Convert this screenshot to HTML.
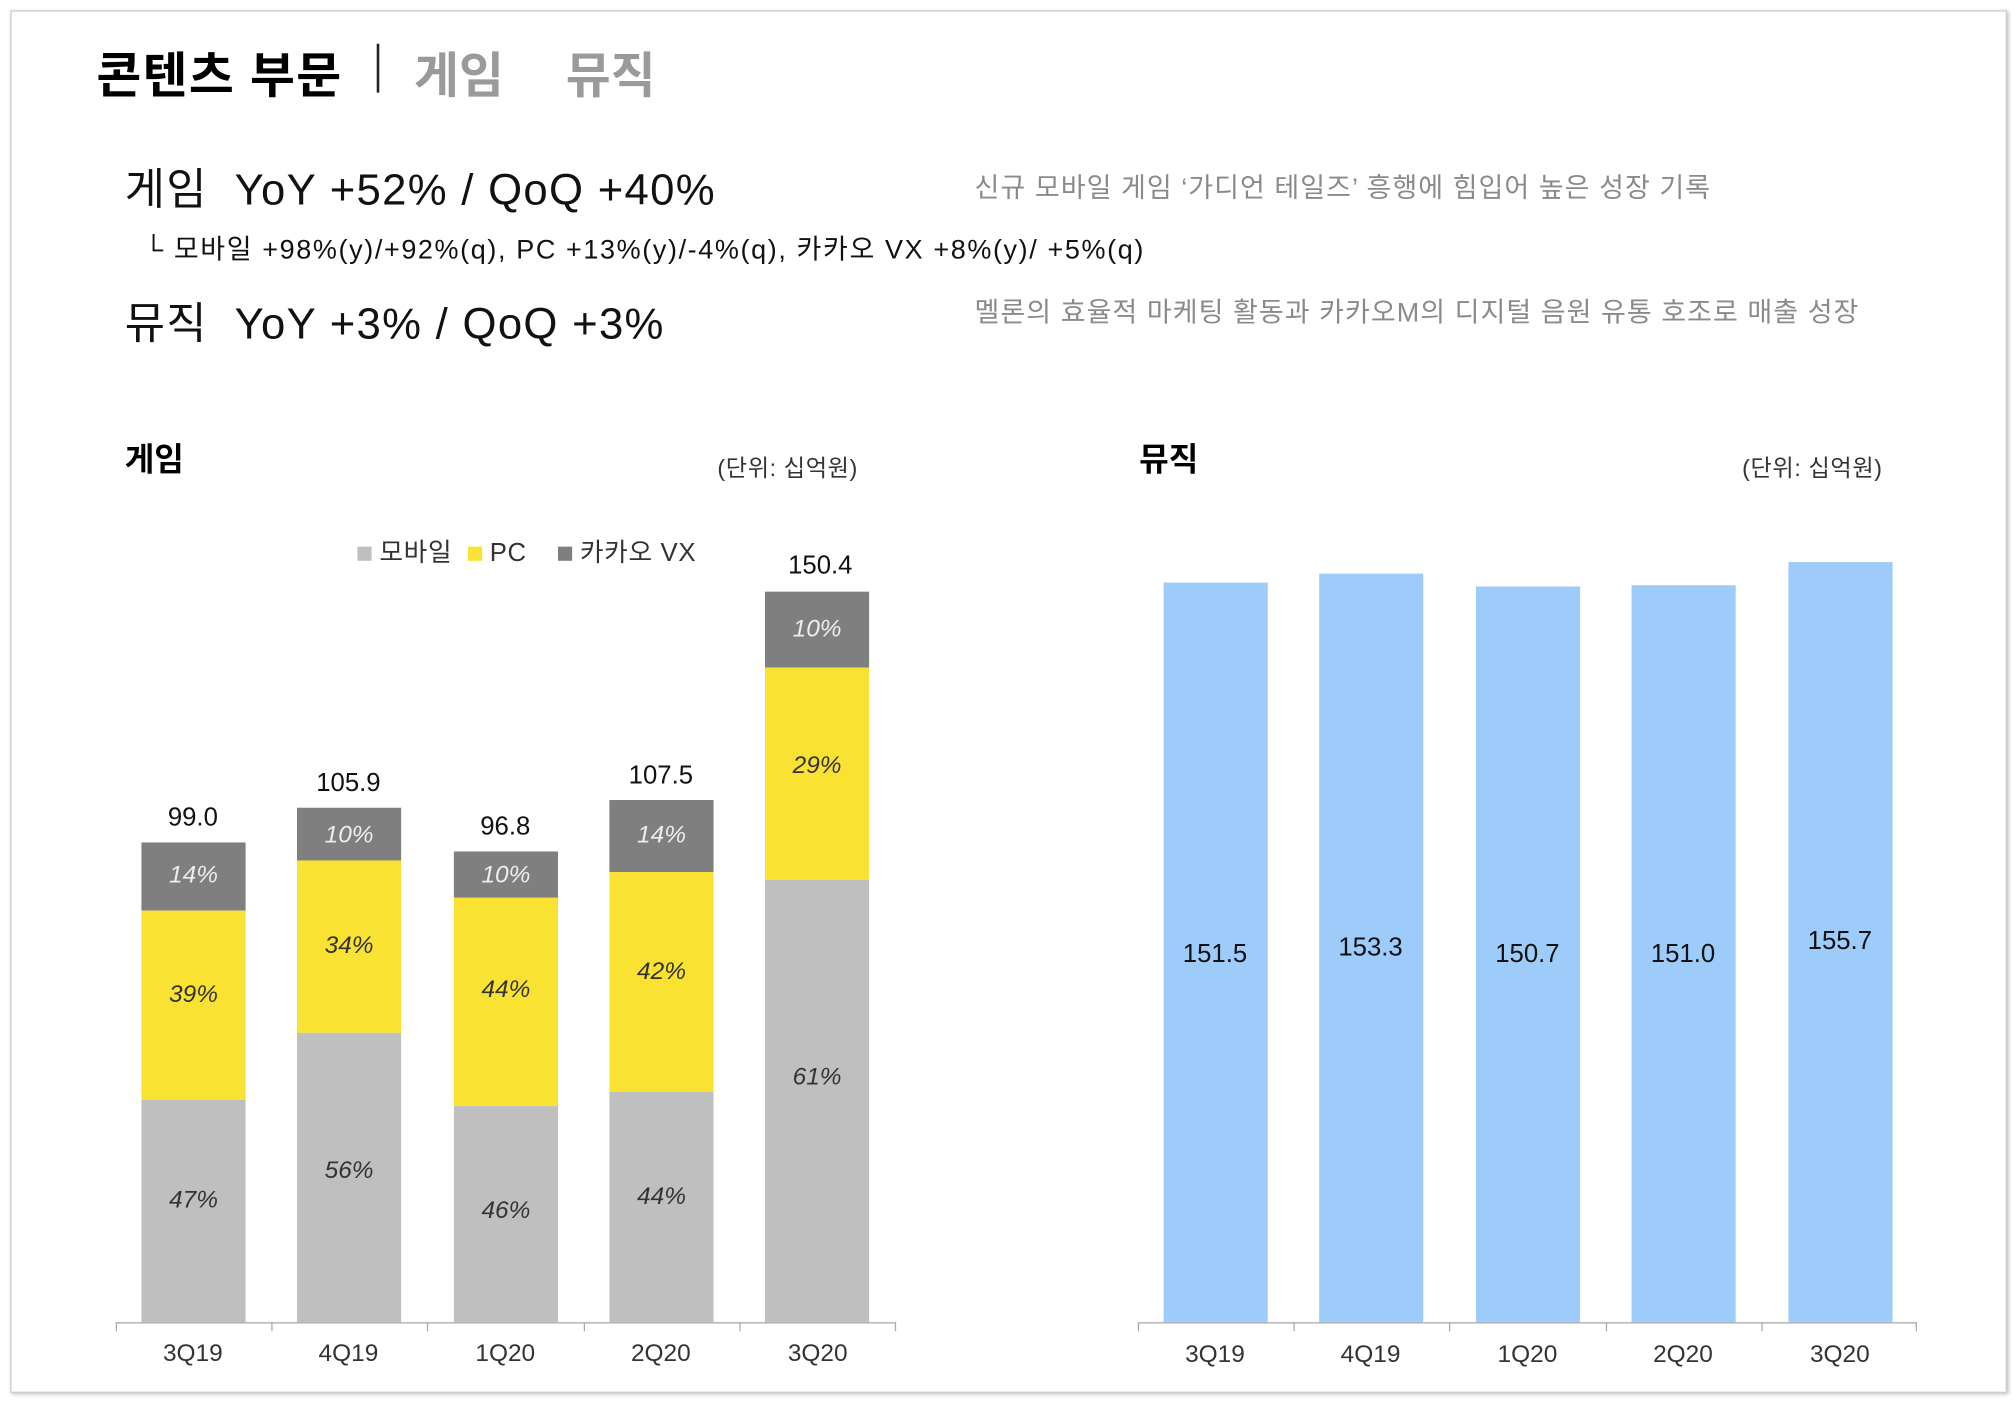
<!DOCTYPE html>
<html><head><meta charset="utf-8"><style>
html,body{margin:0;padding:0;background:#fff;}
body{width:2016px;height:1402px;overflow:hidden;}
#w{position:absolute;left:0;top:0;width:1568px;height:1090px;transform:scale(1.2857,1.2862);transform-origin:0 0;font-family:"Liberation Sans","Noto Sans CJK KR",sans-serif;}
.a{position:absolute;white-space:nowrap;}
.bar{position:absolute;width:81px;}
.p{position:absolute;width:81px;text-align:center;font-style:italic;font-size:19px;color:#333;}
.t{position:absolute;width:100px;text-align:center;font-size:20px;color:#111;}
.x{position:absolute;width:100px;text-align:center;font-size:19px;color:#333;}
</style></head><body><div id="w">
<div class="a" style="left:8px;top:8px;width:1551px;height:1073px;border:1px solid #ccc;box-shadow:1px 1px 3px #bbb;"></div>
<div class="a" style="left:75px;top:28px;font-size:38px;font-weight:bold;color:#000;letter-spacing:1px;">콘텐츠 부문</div>
<div class="a" style="left:293px;top:34px;width:2px;height:38px;background:#222;"></div>
<div class="a" style="left:322px;top:28px;font-size:38px;font-weight:bold;color:#9a9a9a;">게임</div>
<div class="a" style="left:440px;top:28px;font-size:38px;font-weight:bold;color:#9a9a9a;">뮤직</div>
<div class="a" style="left:97px;top:120px;font-size:34px;color:#111;letter-spacing:1px;">게임&nbsp; YoY +52% / QoQ +40%</div>
<div class="a" style="left:112px;top:178px;font-size:21px;color:#111;letter-spacing:1.25px;">└ 모바일 +98%(y)/+92%(q), PC +13%(y)/-4%(q), 카카오 VX +8%(y)/ +5%(q)</div>
<div class="a" style="left:97px;top:224px;font-size:34px;color:#111;letter-spacing:1px;">뮤직&nbsp; YoY +3% / QoQ +3%</div>
<div class="a" style="left:758px;top:130px;font-size:21px;color:#8a8a8a;letter-spacing:0.8px;">신규 모바일 게임 ‘가디언 테일즈’ 흥행에 힘입어 높은 성장 기록</div>
<div class="a" style="left:758px;top:227px;font-size:21px;color:#8a8a8a;letter-spacing:0.8px;">멜론의 효율적 마케팅 활동과 카카오M의 디지털 음원 유통 호조로 매출 성장</div>
<div class="a" style="left:97px;top:338px;font-size:25px;font-weight:bold;">게임</div>
<div class="a" style="left:558px;top:350px;font-size:18px;color:#333;letter-spacing:0.5px;">(단위: 십억원)</div>
<div class="a" style="left:886px;top:338px;font-size:25px;font-weight:bold;">뮤직</div>
<div class="a" style="left:1355px;top:350px;font-size:18px;color:#333;letter-spacing:0.5px;">(단위: 십억원)</div>
<div class="a" style="left:278px;top:413px;font-size:20px;color:#333;letter-spacing:0.5px;"><span style="display:inline-block;width:11px;height:11px;background:#bfbfbf;"></span> 모바일 &nbsp;<span style="display:inline-block;width:11px;height:11px;background:#f9e231;"></span> PC &nbsp;&nbsp;&nbsp;<span style="display:inline-block;width:11px;height:11px;background:#7f7f7f;"></span> 카카오 VX</div>

<div class="bar" style="left:110px;top:655px;height:53px;background:#7f7f7f"></div>
<div class="bar" style="left:110px;top:708px;height:147px;background:#f9e231"></div>
<div class="bar" style="left:110px;top:855px;height:173px;background:#bfbfbf"></div>
<div class="bar" style="left:231px;top:628px;height:41px;background:#7f7f7f"></div>
<div class="bar" style="left:231px;top:669px;height:134px;background:#f9e231"></div>
<div class="bar" style="left:231px;top:803px;height:225px;background:#bfbfbf"></div>
<div class="bar" style="left:353px;top:662px;height:36px;background:#7f7f7f"></div>
<div class="bar" style="left:353px;top:698px;height:162px;background:#f9e231"></div>
<div class="bar" style="left:353px;top:860px;height:168px;background:#bfbfbf"></div>
<div class="bar" style="left:474px;top:622px;height:56px;background:#7f7f7f"></div>
<div class="bar" style="left:474px;top:678px;height:171px;background:#f9e231"></div>
<div class="bar" style="left:474px;top:849px;height:179px;background:#bfbfbf"></div>
<div class="bar" style="left:595px;top:460px;height:59px;background:#7f7f7f"></div>
<div class="bar" style="left:595px;top:519px;height:165px;background:#f9e231"></div>
<div class="bar" style="left:595px;top:684px;height:344px;background:#bfbfbf"></div>

<div class="p" style="left:110px;top:670px;color:#eee">14%</div>
<div class="p" style="left:110px;top:763px">39%</div>
<div class="p" style="left:110px;top:923px">47%</div>
<div class="p" style="left:231px;top:639px;color:#eee">10%</div>
<div class="p" style="left:231px;top:725px">34%</div>
<div class="p" style="left:231px;top:900px">56%</div>
<div class="p" style="left:353px;top:670px;color:#eee">10%</div>
<div class="p" style="left:353px;top:759px">44%</div>
<div class="p" style="left:353px;top:931px">46%</div>
<div class="p" style="left:474px;top:639px;color:#eee">14%</div>
<div class="p" style="left:474px;top:745px">42%</div>
<div class="p" style="left:474px;top:920px">44%</div>
<div class="p" style="left:595px;top:479px;color:#eee">10%</div>
<div class="p" style="left:595px;top:585px">29%</div>
<div class="p" style="left:595px;top:827px">61%</div>

<div class="t" style="left:100px;top:625px">99.0</div>
<div class="t" style="left:221px;top:598px">105.9</div>
<div class="t" style="left:343px;top:632px">96.8</div>
<div class="t" style="left:464px;top:592px">107.5</div>
<div class="t" style="left:588px;top:429px">150.4</div>

<div class="a" style="left:90px;top:1028px;width:607px;height:1px;background:#aaa"></div>
<div class="a" style="left:90px;top:1028px;width:1px;height:7px;background:#aaa"></div>
<div class="a" style="left:211px;top:1028px;width:1px;height:7px;background:#aaa"></div>
<div class="a" style="left:332px;top:1028px;width:1px;height:7px;background:#aaa"></div>
<div class="a" style="left:454px;top:1028px;width:1px;height:7px;background:#aaa"></div>
<div class="a" style="left:575px;top:1028px;width:1px;height:7px;background:#aaa"></div>
<div class="a" style="left:696px;top:1028px;width:1px;height:7px;background:#aaa"></div>
<div class="x" style="left:100px;top:1042px">3Q19</div>
<div class="x" style="left:221px;top:1042px">4Q19</div>
<div class="x" style="left:343px;top:1042px">1Q20</div>
<div class="x" style="left:464px;top:1042px">2Q20</div>
<div class="x" style="left:586px;top:1042px">3Q20</div>

<div class="bar" style="left:905px;top:453px;height:575px;background:#9dcbfa"></div>
<div class="bar" style="left:1026px;top:446px;height:582px;background:#9dcbfa"></div>
<div class="bar" style="left:1148px;top:456px;height:572px;background:#9dcbfa"></div>
<div class="bar" style="left:1269px;top:455px;height:573px;background:#9dcbfa"></div>
<div class="bar" style="left:1391px;top:437px;height:591px;background:#9dcbfa"></div>
<div class="t" style="left:895px;top:731px">151.5</div>
<div class="t" style="left:1016px;top:726px">153.3</div>
<div class="t" style="left:1138px;top:731px">150.7</div>
<div class="t" style="left:1259px;top:731px">151.0</div>
<div class="t" style="left:1381px;top:721px">155.7</div>

<div class="a" style="left:885px;top:1028px;width:606px;height:1px;background:#aaa"></div>
<div class="a" style="left:885px;top:1028px;width:1px;height:7px;background:#aaa"></div>
<div class="a" style="left:1006px;top:1028px;width:1px;height:7px;background:#aaa"></div>
<div class="a" style="left:1127px;top:1028px;width:1px;height:7px;background:#aaa"></div>
<div class="a" style="left:1249px;top:1028px;width:1px;height:7px;background:#aaa"></div>
<div class="a" style="left:1370px;top:1028px;width:1px;height:7px;background:#aaa"></div>
<div class="a" style="left:1490px;top:1028px;width:1px;height:7px;background:#aaa"></div>
<div class="x" style="left:895px;top:1043px">3Q19</div>
<div class="x" style="left:1016px;top:1043px">4Q19</div>
<div class="x" style="left:1138px;top:1043px">1Q20</div>
<div class="x" style="left:1259px;top:1043px">2Q20</div>
<div class="x" style="left:1381px;top:1043px">3Q20</div>
</div></body></html>
